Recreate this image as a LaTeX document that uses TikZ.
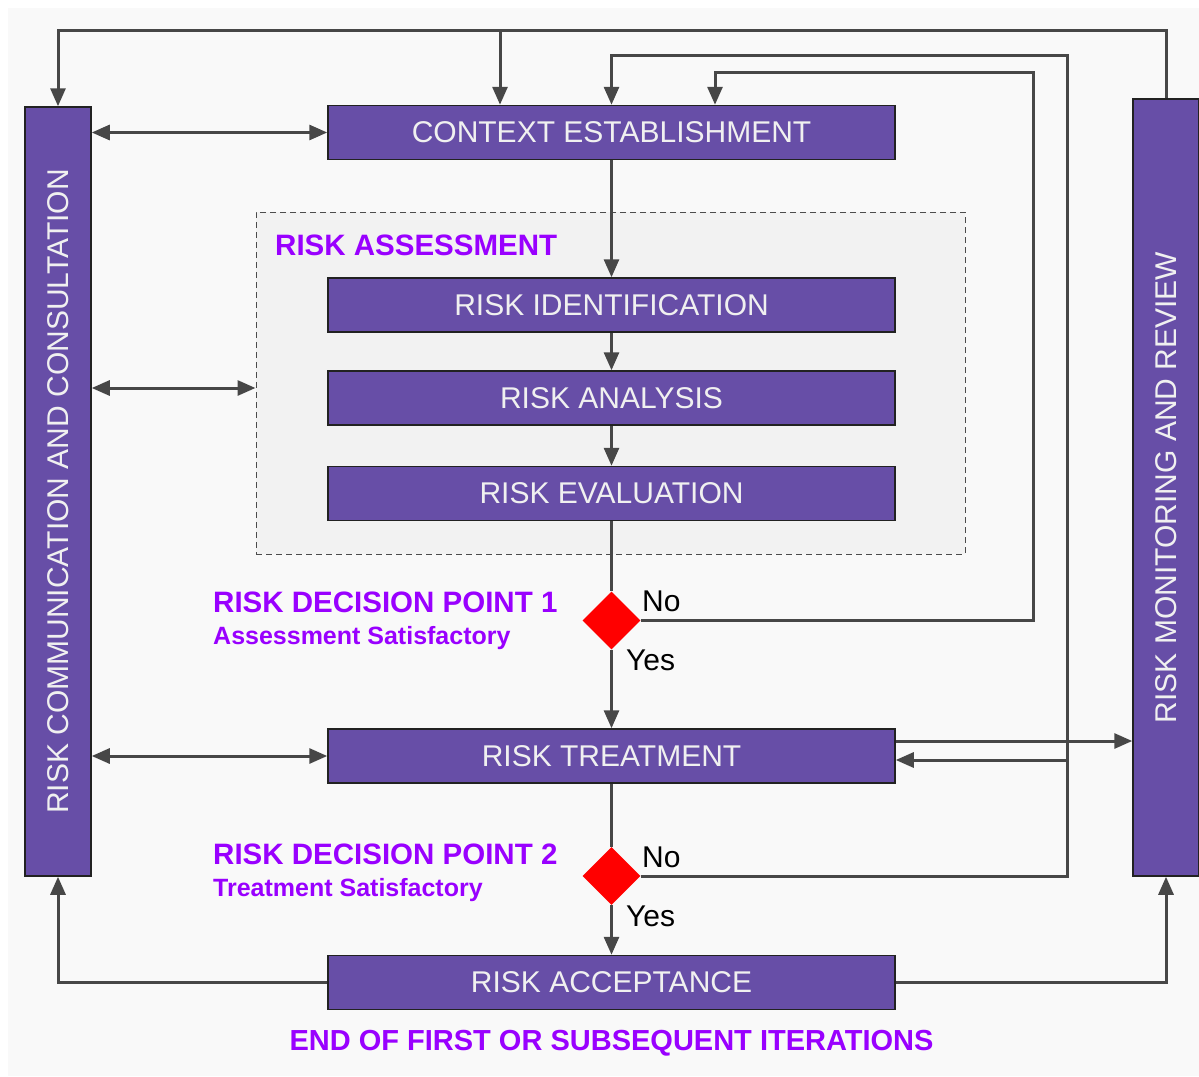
\documentclass[tikz,border=0pt]{standalone}
\usepackage{fontspec}
\setmainfont{Liberation Sans}
\usetikzlibrary{arrows.meta,shapes.geometric}
\definecolor{boxfill}{HTML}{674EA7}
\definecolor{boxline}{HTML}{222222}
\definecolor{wire}{HTML}{474747}
\definecolor{label}{HTML}{9900FF}
\definecolor{canvas}{HTML}{F9F9F9}
\definecolor{panel}{HTML}{F2F2F2}
\tikzset{
  stepbox/.style={draw=boxline, line width=1.5pt, fill=boxfill, text=white!94!black,
    minimum width=567pt, minimum height=54pt, inner sep=0pt,
    font=\fontsize{30}{32}\selectfont},
  sidebox/.style={stepbox, minimum width=66pt},
  wire/.style={draw=wire, line width=3pt},
  arr/.style={wire, -{Triangle[length=18pt,width=15pt]}},
  darr/.style={wire, {Triangle[length=18pt,width=15pt]}-{Triangle[length=18pt,width=15pt]}},
  decision/.style={diamond, fill=red, minimum width=58pt, minimum height=58pt, inner sep=0pt},
  tag/.style={text=label, font=\bfseries\fontsize{29.5}{31}\selectfont, anchor=base west, inner sep=0pt},
  subtag/.style={text=label, font=\bfseries\fontsize{25}{27}\selectfont, anchor=base west, inner sep=0pt},
  answer/.style={font=\fontsize{30}{32}\selectfont, anchor=base west, inner sep=0pt},
}
\begin{document}
\begin{tikzpicture}[x=1pt, y=-1pt]
\useasboundingbox (0,0) rectangle (1199,1076);
\fill[canvas] (8,8) rectangle (1199,1076);

% risk assessment panel
\node[draw=black!70, dashed, dash pattern=on 6pt off 4pt, line width=1pt, fill=panel,
      minimum width=709pt, minimum height=342pt, inner sep=0pt] (ra) at (610.5,383) {};
\node[tag] (ratag) at (275,255) {RISK ASSESSMENT};

% process steps
\node[stepbox] (ctx) at (611.5,132.5) {CONTEXT ESTABLISHMENT};
\node[stepbox] (rid) at (611.5,305) {RISK IDENTIFICATION};
\node[stepbox] (ran) at (611.5,398) {RISK ANALYSIS};
\node[stepbox] (rev) at (611.5,493.5) {RISK EVALUATION};
\node[stepbox] (tr)  at (611.5,756) {RISK TREATMENT};
\node[stepbox] (acc) at (611.5,982.5) {RISK ACCEPTANCE};

% side columns, text reading upwards
\node[sidebox, minimum height=769pt] (comm) at (58,491.5) {\rotatebox{90}{RISK COMMUNICATION AND CONSULTATION}};
\node[sidebox, minimum height=777pt] (mon) at (1166,487.5) {\rotatebox{90}{RISK MONITORING AND REVIEW}};

% decision points
\node[decision] (d1) at (611.5,620.5) {};
\node[decision] (d2) at (611.5,876) {};
\node[tag] (dp1) at (213,612) {RISK DECISION POINT 1};
\node[subtag] (dp1s) at (213,644) {Assessment Satisfactory};
\node[tag] (dp2) at (213,864) {RISK DECISION POINT 2};
\node[subtag] (dp2s) at (213,896) {Treatment Satisfactory};
\node[answer] (no1) at (642,611) {No};
\node[answer] (yes1) at (626,670) {Yes};
\node[answer] (no2) at (642,867) {No};
\node[answer] (yes2) at (626,926) {Yes};

\node[text=label, font=\bfseries\fontsize{29}{31}\selectfont] (endtag) at (611.5,1043) {END OF FIRST OR SUBSEQUENT ITERATIONS};

% routing coordinates
\coordinate (topy) at (0,30);
\coordinate (b1) at (500,0);
\coordinate (n1) at (1033,72);
\coordinate (n1x) at (715,0);
\coordinate (n2) at (1067,55);
\coordinate (outy) at (0,741);
\coordinate (backy) at (0,760);
\coordinate (ray) at (0,388);

% main flow
\draw[arr] (ctx.south) -- (rid.north);
\draw[arr] (rid.south) -- (ran.north);
\draw[arr] (ran.south) -- (rev.north);
\draw[wire] (rev.south) -- (d1.north);
\draw[arr] (d1.south) -- (tr.north);
\draw[wire] (tr.south) -- (d2.north);
\draw[arr] (d2.south) -- (acc.north);

% feedback loops
\draw[arr] (mon.north) |- (topy -| comm.north) -- (comm.north);
\draw[arr] (topy -| b1) -- (ctx.north -| b1);
\draw[arr] (d1.east) -| (n1) -| (ctx.north -| n1x);
\draw[arr] (d2.east) -| (n2) -| (ctx.north);
\draw[arr] (backy -| n2) -- (backy -| tr.east);
\draw[arr] (outy -| tr.east) -- (outy -| mon.west);
\draw[arr] (acc.east) -| (mon.south);
\draw[arr] (acc.west) -| (comm.south);

% communication links
\draw[darr] (comm.east |- ctx.west) -- (ctx.west);
\draw[darr] (comm.east |- ray) -- (ra.west |- ray);
\draw[darr] (comm.east |- tr.west) -- (tr.west);
\end{tikzpicture}
\end{document}
